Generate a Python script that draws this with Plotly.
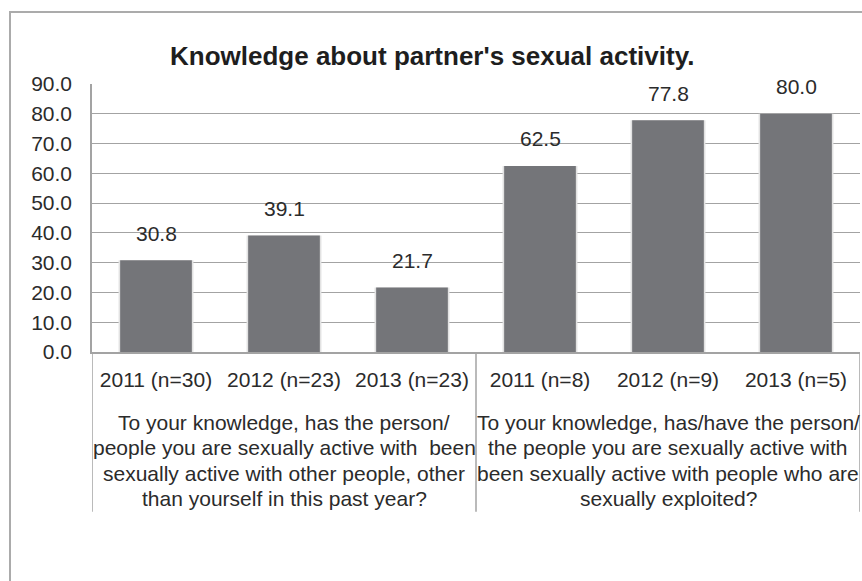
import plotly.graph_objects as go

# ---- data ----
categories = ["2011 (n=30)", "2012 (n=23)", "2013 (n=23)",
              "2011 (n=8)", "2012 (n=9)", "2013 (n=5)"]
values = [30.8, 39.1, 21.7, 62.5, 77.8, 80.0]
group_lines = [
    ["To your knowledge, has the person/",
     "people you are sexually active with\u00a0 been",
     "sexually active with other people, other",
     "than yourself in this past year?"],
    ["To your knowledge, has/have the person/",
     "the people you are sexually active with",
     "been sexually active with people who are",
     "sexually exploited?"],
]
group_centers = [1, 4]
group_edges = [-0.5, 2.5, 5.5]
y_ticks = [0, 10, 20, 30, 40, 50, 60, 70, 80, 90]

FONT = "Liberation Sans, Arial, Helvetica, sans-serif"
TXT = "#2b2b2b"
GRID = "#a3a3a3"
BAR = "#747579"
FS = 21

W, H = 862, 581
ML, MR, MT, MB = 92, 2, 84, 229
PW, PH = W - ML - MR, H - MT - MB

xs = list(range(len(categories)))

fig = go.Figure()

# soft halo behind each bar
fig.add_trace(go.Bar(
    x=xs, y=values, width=0.585, marker=dict(color="#e2e2e2", line=dict(width=0)),
    hoverinfo="skip", showlegend=False,
))
fig.add_trace(go.Bar(
    x=xs, y=values, width=0.56, marker=dict(color=BAR, line=dict(width=0)),
    showlegend=False,
))

# value labels above the bars
for x, v in zip(xs, values):
    fig.add_annotation(
        x=x, y=v, xref="x", yref="y", text=f"{v:.1f}", showarrow=False,
        yanchor="middle", yshift=27, font=dict(family=FONT, size=FS, color=TXT),
    )

# second-level category labels, one line at a time for tight leading
for xc, lines in zip(group_centers, group_lines):
    for i, line in enumerate(lines):
        fig.add_annotation(
            x=xc, y=0, xref="x", yref="paper", text=line, showarrow=False,
            yanchor="middle", yshift=-(70.3 + 25.5 * i), align="center",
            font=dict(family=FONT, size=FS, color=TXT),
        )

# group separators below the axis
sep_bottom = -(511.7 - (H - MB)) / PH
for xe in group_edges:
    fig.add_shape(type="line", xref="x", yref="paper", x0=xe, x1=xe,
                  y0=0, y1=sep_bottom, line=dict(color=GRID, width=1.5))

# outer chart frame
fig.add_shape(type="rect", xref="paper", yref="paper",
              x0=(10 - ML) / PW, x1=(W + 40 - ML) / PW,
              y0=-(H + 40 - (H - MB)) / PH, y1=((H - MB) - 12) / PH,
              line=dict(color="#ababab", width=2), layer="below")

fig.update_layout(
    width=W, height=H, autosize=False,
    margin=dict(l=ML, r=MR, t=MT, b=MB, pad=0),
    paper_bgcolor="white", plot_bgcolor="white",
    barmode="overlay", showlegend=False,
    title=dict(
        text="<b>Knowledge about partner's sexual activity.</b>",
        xref="container", x=170 / W, xanchor="left",
        yref="container", y=1 - 56 / H, yanchor="middle",
        font=dict(family=FONT, size=26, color="#1e1e1e"),
    ),
    xaxis=dict(
        range=[-0.5, 5.5], tickmode="array", tickvals=xs, ticktext=categories,
        showgrid=False, zeroline=False, showline=True, linecolor=GRID, linewidth=1.5,
        ticks="", ticklabelstandoff=8,
        tickfont=dict(family=FONT, size=FS, color=TXT),
    ),
    yaxis=dict(
        range=[0, 90], tickmode="array", tickvals=y_ticks,
        ticktext=[f"{t:.1f}" for t in y_ticks],
        showgrid=True, gridcolor=GRID, gridwidth=1.3, zeroline=False,
        showline=True, linecolor=GRID, linewidth=1.5,
        ticks="", ticklabelstandoff=14,
        tickfont=dict(family=FONT, size=FS, color=TXT),
    ),
)

fig.write_html("out.html")
